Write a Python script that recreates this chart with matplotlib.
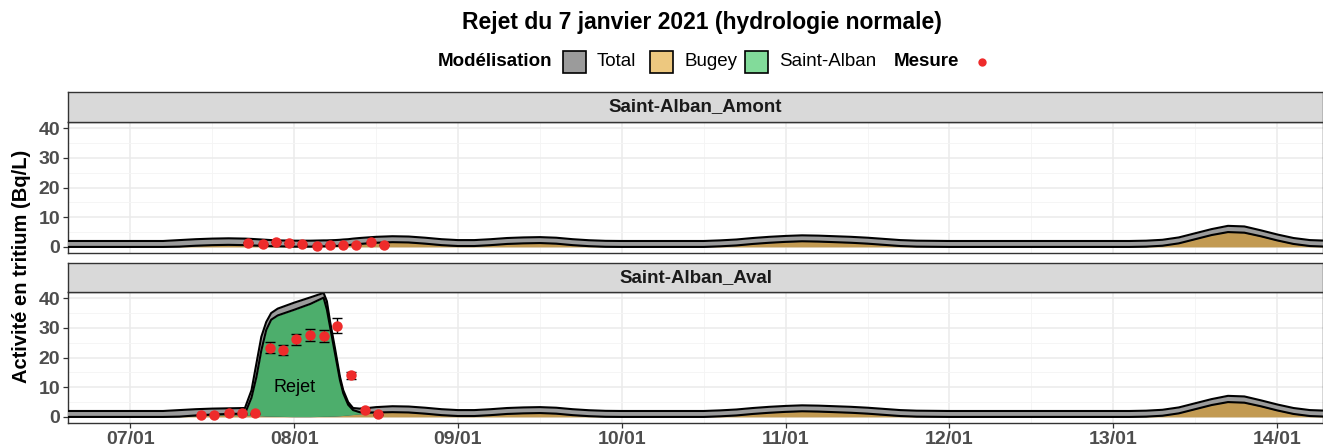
import matplotlib.pyplot as plt
import matplotlib.patches as mpatches
from matplotlib.ticker import MultipleLocator
import numpy as np

plt.rcParams['font.family'] = ['Liberation Sans', 'DejaVu Sans']

# temps (jour de janvier 2021)
t = [6.60, 7.00, 7.20, 7.30, 7.40, 7.50, 7.60, 7.70, 7.74, 7.77, 7.80, 7.83, 7.86, 7.90,
     8.00, 8.10, 8.18, 8.20, 8.22, 8.25, 8.28, 8.30, 8.33, 8.36, 8.40, 8.45, 8.50, 8.60,
     8.70, 8.80, 8.90, 9.00, 9.10, 9.20, 9.30, 9.40, 9.50, 9.60, 9.70, 9.80, 9.90, 10.00,
     10.30, 10.50, 10.60, 10.70, 10.80, 10.90, 11.00, 11.10, 11.20, 11.30, 11.40, 11.50,
     11.60, 11.70, 11.80, 12.00, 12.50, 13.00, 13.10, 13.20, 13.30, 13.40, 13.50, 13.60,
     13.70, 13.80, 13.90, 14.00, 14.10, 14.20, 14.30]

# contribution Bugey (Bq/L)
bugey = [0.0, 0.0, 0.0, 0.1, 0.4, 0.6, 0.7, 0.6, 0.5, 0.45, 0.4, 0.3, 0.25, 0.2,
         0.1, 0.1, 0.2, 0.2, 0.25, 0.3, 0.4, 0.5, 0.6, 0.8, 1.0, 1.2, 1.4, 1.6,
         1.5, 1.1, 0.6, 0.3, 0.3, 0.6, 1.0, 1.2, 1.3, 1.1, 0.6, 0.25, 0.05, 0.0,
         0.0, 0.0, 0.2, 0.5, 1.0, 1.4, 1.7, 1.9, 1.8, 1.6, 1.4, 1.1,
         0.7, 0.3, 0.1, 0.0, 0.0, 0.0, 0.0, 0.1, 0.4, 1.2, 2.6, 4.0,
         5.0, 4.8, 3.6, 2.2, 1.0, 0.3, 0.1]

# borne haute du total, Saint-Alban_Amont
total_amont = [2.0, 2.0, 2.0, 2.3, 2.6, 2.8, 2.9, 2.8, 2.7, 2.6, 2.5, 2.4, 2.3, 2.2,
               2.1, 2.1, 2.2, 2.2, 2.25, 2.3, 2.4, 2.5, 2.6, 2.8, 3.0, 3.2, 3.4, 3.6,
               3.5, 3.1, 2.6, 2.3, 2.3, 2.6, 3.0, 3.2, 3.3, 3.1, 2.6, 2.25, 2.05, 2.0,
               2.0, 2.0, 2.2, 2.5, 3.0, 3.4, 3.7, 3.9, 3.8, 3.6, 3.4, 3.1,
               2.7, 2.3, 2.1, 2.0, 2.0, 2.0, 2.0, 2.1, 2.4, 3.2, 4.6, 6.0,
               7.1, 6.9, 5.6, 4.2, 3.0, 2.3, 2.1]

# contribution Saint-Alban, Saint-Alban_Aval
saint_alban = [0.0, 0.0, 0.0, 0.0, 0.1, 0.2, 0.3, 0.5, 6.0, 13.0, 22.0, 29.0, 32.5, 34.0,
               36.0, 38.0, 40.0, 36.0, 30.0, 21.0, 12.0, 7.5, 3.5, 1.5, 0.6, 0.3, 0.1, 0.0,
               0.0, 0.0, 0.0, 0.0, 0.0, 0.0, 0.0, 0.0, 0.0, 0.0, 0.0, 0.0, 0.0, 0.0,
               0.0, 0.0, 0.0, 0.0, 0.0, 0.0, 0.0, 0.0, 0.0, 0.0, 0.0, 0.0,
               0.0, 0.0, 0.0, 0.0, 0.0, 0.0, 0.0, 0.0, 0.0, 0.0, 0.0, 0.0,
               0.0, 0.0, 0.0, 0.0, 0.0, 0.0, 0.0]

# borne haute du total, Saint-Alban_Aval
total_aval = [2.0, 2.0, 2.0, 2.3, 2.6, 2.8, 2.9, 3.0, 9.0, 18.0, 27.0, 32.0, 35.0, 36.5,
              38.5, 40.3, 41.8, 39.0, 32.0, 23.0, 13.5, 9.0, 5.0, 3.0, 2.8, 3.0, 3.3, 3.6,
              3.5, 3.1, 2.6, 2.3, 2.3, 2.6, 3.0, 3.2, 3.3, 3.1, 2.6, 2.25, 2.05, 2.0,
              2.0, 2.0, 2.2, 2.5, 3.0, 3.4, 3.7, 3.9, 3.8, 3.6, 3.4, 3.1,
              2.7, 2.3, 2.1, 2.0, 2.0, 2.0, 2.0, 2.1, 2.4, 3.2, 4.6, 6.0,
              7.1, 6.9, 5.6, 4.2, 3.0, 2.3, 2.1]

# mesures
t_mes_amont = [7.72, 7.81, 7.89, 7.97, 8.05, 8.14, 8.22, 8.30, 8.38, 8.47, 8.55]
mes_amont = [1.45, 1.0, 1.7, 1.35, 0.9, 0.45, 0.8, 0.8, 0.8, 1.7, 0.6]
err_amont = [0.1, 0.1, 0.1, 0.1, 0.1, 0.1, 0.1, 0.1, 0.1, 0.1, 0.1]

t_mes_aval = [7.43, 7.51, 7.60, 7.68, 7.76, 7.85, 7.93, 8.01, 8.10, 8.18, 8.26, 8.35, 8.43, 8.51]
mes_aval = [0.7, 0.8, 1.25, 1.25, 1.25, 23.3, 22.7, 26.1, 27.7, 27.2, 30.8, 14.1, 2.4, 0.9]
err_aval = [0.1, 0.1, 0.1, 0.1, 0.1, 1.8, 1.7, 2.0, 2.0, 2.0, 2.4, 1.2, 0.7, 0.1]

jours = [7, 8, 9, 10, 11, 12, 13, 14]
jours_labels = ['07/01', '08/01', '09/01', '10/01', '11/01', '12/01', '13/01', '14/01']

c_total = '#9B9B9B'
c_bugey = '#C29A52'
c_sa = '#4DAE6C'
c_mes = '#EE2B2B'

W, H = 1323, 446
fig = plt.figure(figsize=(W / 100, H / 100), dpi=100)


def fx(x):
    return x / W


def fy(y):
    return 1 - y / H


def panel(top, bottom, strip_top, name, hi, sa, tm, m, e, xlabels):
    ax = fig.add_axes([fx(68), fy(bottom), 1 - fx(68), (bottom - top) / H])
    tt = np.array(t)
    b = np.array(bugey)
    low = b + np.array(sa)
    ax.fill_between(tt, 0, b, color=c_bugey, lw=0, zorder=2)
    ax.plot(tt, b, color='#222222', lw=0.8, zorder=2.1)
    if max(sa) > 0:
        ax.fill_between(tt, b, low, color=c_sa, lw=0, zorder=2.2)
    ax.fill_between(tt, low, hi, color=c_total, lw=0, zorder=3)
    ax.plot(tt, low, color='black', lw=1.5, zorder=3.5)
    ax.plot(tt, hi, color='black', lw=1.5, zorder=3.5)
    ax.errorbar(tm, m, yerr=e, fmt='none', ecolor='black', elinewidth=1.0,
                capsize=3.5, capthick=1.0, zorder=4)
    ax.plot(tm, m, 'o', color=c_mes, ms=7.5, mec='none', zorder=5)

    ax.set_xlim(6.62, 14.28)
    ax.set_ylim(-2.05, 42.1)
    ax.set_xticks(jours)
    ax.xaxis.set_minor_locator(MultipleLocator(0.5))
    ax.set_yticks([0, 10, 20, 30, 40])
    ax.yaxis.set_minor_locator(MultipleLocator(5))
    ax.grid(which='major', color='#EBEBEB', lw=1.1, zorder=0)
    ax.grid(which='minor', color='#F4F4F4', lw=0.6, zorder=0)
    ax.set_axisbelow(True)
    for s in ax.spines.values():
        s.set_color('#333333')
        s.set_linewidth(1.0)
    ax.tick_params(which='major', length=3.5, width=0.9, color='#333333',
                   labelsize=14, labelcolor='#4D4D4D', pad=2)
    ax.tick_params(which='minor', length=0)
    for lab in ax.get_yticklabels():
        lab.set_fontweight('bold')
    if xlabels:
        ax.set_xticklabels(jours_labels, fontweight='bold')
    else:
        ax.set_xticklabels([])
        ax.tick_params(axis='x', length=0)

    # bandeau du facet
    sax = fig.add_axes([fx(68), fy(top), 1 - fx(68), (top - strip_top) / H])
    sax.set_facecolor('#D9D9D9')
    sax.set_xticks([])
    sax.set_yticks([])
    for s in sax.spines.values():
        s.set_color('#333333')
        s.set_linewidth(1.0)
    sax.text(0.5, 0.5, name, ha='center', va='center', fontsize=13.5,
             fontweight='bold', color='#1A1A1A', transform=sax.transAxes)
    return ax


ax1 = panel(122, 253, 92, 'Saint-Alban_Amont', total_amont, [0.0] * len(t),
            t_mes_amont, mes_amont, err_amont, False)
ax2 = panel(292, 423, 263, 'Saint-Alban_Aval', total_aval, saint_alban,
            t_mes_aval, mes_aval, err_aval, True)
ax2.text(8.0, 9.8, 'Rejet', ha='center', va='center', fontsize=13, color='black', zorder=6)

fig.text(fx(22), fy(266), 'Activité en tritium (Bq/L)', rotation=90, ha='center',
         va='center', fontsize=14.5, fontweight='bold')
fig.text(fx(702), fy(23), 'Rejet du 7 janvier 2021 (hydrologie normale)', ha='center',
         va='center', fontsize=16.5, fontweight='bold')

# legende
ly = 62
fig.text(fx(438), fy(ly), 'Modélisation', ha='left', va='center', fontsize=13.5,
         fontweight='bold')
for x0, col, lab in [(563, c_total, 'Total'), (650, '#EDC87F', 'Bugey'),
                     (745, '#82DB9A', 'Saint-Alban')]:
    fig.patches.append(mpatches.Rectangle((fx(x0), fy(ly + 11)), 23 / W, 22 / H,
                                          facecolor=col, edgecolor='black', lw=1.2,
                                          transform=fig.transFigure))
    fig.text(fx(x0 + 34), fy(ly), lab, ha='left', va='center', fontsize=13.5)
fig.text(fx(894), fy(ly), 'Mesure', ha='left', va='center', fontsize=13.5,
         fontweight='bold')
fig.lines.append(plt.Line2D([fx(982)], [fy(ly)], marker='o', color=c_mes, ms=6,
                            mec='none', transform=fig.transFigure))

fig.savefig('out.png', dpi=100)
